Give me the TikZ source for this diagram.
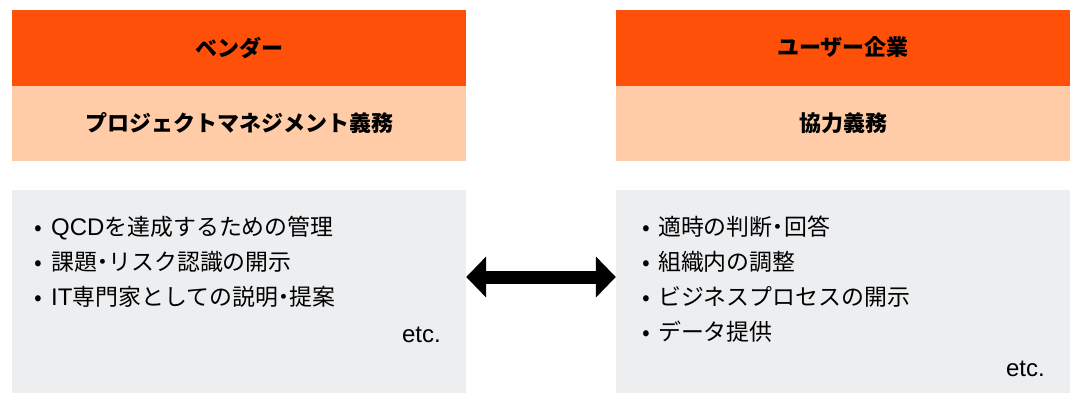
\documentclass[tikz,border=0pt]{standalone}
\usepackage{fontspec}
\setmainfont{Noto Sans CJK JP}
\newfontfamily\latf{Liberation Sans}
\usetikzlibrary{arrows.meta}
\definecolor{hdr}{RGB}{255,80,10}
\definecolor{band}{RGB}{255,204,167}
\definecolor{panel}{RGB}{237,238,240}
\tikzset{
  hdrbox/.style={fill=hdr,draw=none,minimum width=454pt,minimum height=76pt,inner sep=0pt,font=\fontsize{22pt}{26pt}\selectfont\bfseries,text=black},
  bandbox/.style={fill=band,draw=none,minimum width=454pt,minimum height=75pt,inner sep=0pt,font=\fontsize{22pt}{26pt}\selectfont\bfseries,text=black},
  panelbox/.style={fill=panel,draw=none,minimum width=454pt,minimum height=203pt,inner sep=0pt},
  itemtxt/.style={anchor=base west,inner sep=0pt,font=\fontsize{22.9pt}{26pt}\selectfont},
  etctxt/.style={anchor=base east,inner sep=0pt,font=\fontsize{24pt}{28pt}\latf}
}
\newcommand{\lat}[1]{{\fontsize{24pt}{28pt}\latf #1}}
\newcommand{\ndot}{\makebox[0.5em][c]{・}}
\newcommand{\itm}[1]{\makebox[17pt][l]{•}#1}
\newcommand{\itmr}[1]{\makebox[16pt][l]{•}#1}
\begin{document}
\begin{tikzpicture}[x=1pt,y=-1pt]
\useasboundingbox (0,0) rectangle (1075,394);
% left column
\node[hdrbox] (lh) at (239,47.5) {ベンダー};
\node[bandbox] (lb) at (239,123) {プロジェクトマネジメント義務};
\node[panelbox] (lp) at (239,291.5) {};
\node[itemtxt] (l1) at (34,235.4) {\itm{\lat{QCD}を達成するための管理}};
\node[itemtxt] (l2) at (34,270.4) {\itm{課題\ndot リスク認識の開示}};
\node[itemtxt] (l3) at (34,305.4) {\itm{\lat{IT}専門家としての説明\ndot 提案}};
\node[etctxt] (le) at (441,342.7) {etc.};
% right column
\node[hdrbox] (rh) at (843,47.5) {ユーザー企業};
\node[bandbox] (rb) at (843,123) {協力義務};
\node[panelbox] (rp) at (843,291.5) {};
\node[itemtxt] (r1) at (642,235.4) {\itmr{適時の判断\ndot 回答}};
\node[itemtxt] (r2) at (642,270.4) {\itmr{組織内の調整}};
\node[itemtxt] (r3) at (642,305.4) {\itmr{ビジネスプロセスの開示}};
\node[itemtxt] (r4) at (642,340.4) {\itmr{データ提供}};
\node[etctxt] (re) at (1045,376.5) {etc.};
% arrow
\coordinate (al) at (lp.east |- 0,277);
\coordinate (ar) at (rp.west |- 0,277);
\draw[line width=13pt,{Triangle[length=20pt,width=40pt]}-{Triangle[length=20pt,width=40pt]}] (al) -- (ar);
\end{tikzpicture}
\end{document}
